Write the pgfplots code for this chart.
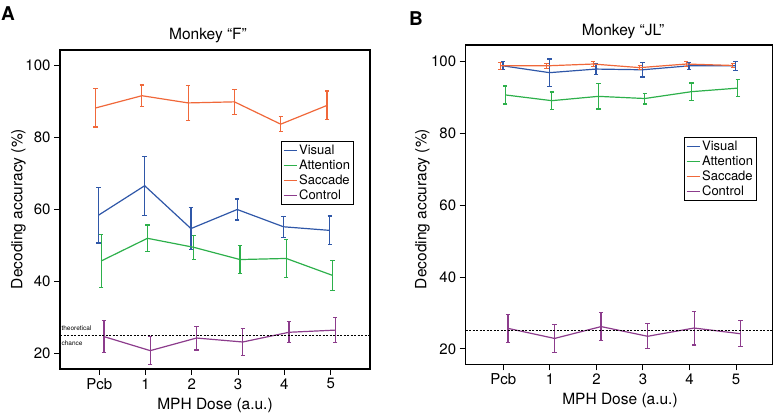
\documentclass[border=0pt]{standalone}
\usepackage{fontspec}
\setmainfont{TeX Gyre Heros}
\usepackage{pgfplots}
\pgfplotsset{compat=1.18}

\definecolor{cvis}{HTML}{2F57A8}
\definecolor{catt}{HTML}{2DB04B}
\definecolor{csac}{HTML}{F0683A}
\definecolor{cctl}{HTML}{8C3C8C}

\pgfplotsset{
  mph/.style={
    scale only axis, axis line style={line width=1.3pt},
    tick align=outside, xtick pos=bottom, ytick pos=left,
    tick style={line width=1pt, black}, major tick length=6pt,
    xtick={0,...,5}, xticklabels={Pcb,1,2,3,4,5},
    ytick={20,40,60,80,100},
    /pgf/number format/assume math mode=true,
    tick label style={font=\fontsize{15}{16}\selectfont},
    legend style={draw=black, line width=0.8pt, anchor=north west,
      font=\fontsize{13}{14}\selectfont, inner sep=1.5pt, row sep=0pt,
      cells={anchor=west}},
    /pgfplots/error bars/y dir=both,
    /pgfplots/error bars/y explicit,
    /pgfplots/error bars/error bar style={line width=1.2pt},
    /pgfplots/error bars/error mark options={rotate=90, line width=1.2pt, mark size=2.2pt},
  },
  key/.style={legend image code/.code={\draw[#1, line width=1.2pt] (0pt,0pt) -- (13pt,0pt);}},
}
\newcommand{\keys}{%
  \addlegendimage{key=cvis}\addlegendentry{Visual}
  \addlegendimage{key=catt}\addlegendentry{Attention}
  \addlegendimage{key=csac}\addlegendentry{Saccade}
  \addlegendimage{key=cctl}\addlegendentry{Control}}

\begin{document}
\begin{tikzpicture}
\useasboundingbox (0,0) rectangle (775pt,414pt);

% panel A
\begin{axis}[mph, at={(60pt,45pt)}, anchor=south west,
  width=310pt, height=319pt, xmin=-0.85, xmax=5.85, ymin=15.6, ymax=104.2,
  legend style={at={(0.713,0.715)}}]
\addplot[color=cvis, line width=1.2pt, mark=none, forget plot] coordinates {
  (-0.02,58.3) +- (0,7.7) (0.98,66.5) +- (0,8.2) (1.98,54.6) +- (0,5.8)
  (2.98,59.9) +- (0,2.9) (3.98,55.1) +- (0,2.9) (4.98,54.1) +- (0,4.0)};
\addplot[color=catt, line width=1.2pt, mark=none, forget plot] coordinates {
  (0.04,45.6) +- (0,7.4) (1.04,51.9) +- (0,3.7) (2.04,49.4) +- (0,3.3)
  (3.04,46.0) +- (0,3.8) (4.04,46.3) +- (0,5.2) (5.04,41.6) +- (0,4.2)};
\addplot[color=csac, line width=1.2pt, mark=none, forget plot] coordinates {
  (-0.08,88.1) +- (0,5.3) (0.92,91.5) +- (0,3.0) (1.92,89.5) +- (0,4.8)
  (2.92,89.8) +- (0,3.5) (3.92,83.6) +- (0,2.1) (4.92,88.8) +- (0,4.0)};
\addplot[color=cctl, line width=1.2pt, mark=none, forget plot] coordinates {
  (0.1,24.6) +- (0,4.4) (1.1,20.7) +- (0,3.9) (2.1,24.2) +- (0,3.3)
  (3.1,23.1) +- (0,3.8) (4.1,25.8) +- (0,2.9) (5.1,26.4) +- (0,3.4)};
\addplot[black, line width=1pt, dash pattern=on 2pt off 1.5pt, forget plot] coordinates {(-0.85,25) (5.85,25)};
\node[anchor=west, font=\fontsize{6.5}{7}\selectfont, inner sep=0pt] at (axis cs:-0.82,26.9) {theoretical};
\node[anchor=west, font=\fontsize{6.5}{7}\selectfont, inner sep=0pt] at (axis cs:-0.82,22.9) {chance};
\keys
\end{axis}

% panel B
\begin{axis}[mph, at={(465.7pt,49.7pt)}, anchor=south west,
  width=306.6pt, height=319.3pt, xmin=-0.81, xmax=5.78, ymin=15.7, ymax=104.6,
  legend style={at={(0.712,0.712)}}]
\addplot[color=cvis, line width=1.2pt, mark=none, forget plot] coordinates {
  (-0.01,98.8) +- (0,1.1) (0.99,96.9) +- (0,3.8) (1.99,97.9) +- (0,1.6)
  (2.99,97.7) +- (0,2.0) (3.99,98.8) +- (0,1.0) (4.99,98.8) +- (0,1.2)};
\addplot[color=catt, line width=1.2pt, mark=none, forget plot] coordinates {
  (0.04,90.7) +- (0,2.5) (1.04,89.1) +- (0,2.4) (2.04,90.3) +- (0,3.5)
  (3.04,89.7) +- (0,1.5) (4.04,91.6) +- (0,2.4) (5.04,92.6) +- (0,2.4)};
\addplot[color=csac, line width=1.2pt, mark=none, forget plot] coordinates {
  (-0.07,98.8) +- (0,1.0) (0.93,98.8) +- (0,0.7) (1.93,99.3) +- (0,0.7)
  (2.93,98.3) +- (0,0.6) (3.93,99.3) +- (0,0.6) (4.93,98.9) +- (0,0.5)};
\addplot[color=cctl, line width=1.2pt, mark=none, forget plot] coordinates {
  (0.1,25.7) +- (0,3.9) (1.1,22.9) +- (0,3.9) (2.1,26.2) +- (0,3.9)
  (3.1,23.5) +- (0,3.5) (4.1,25.8) +- (0,4.7) (5.1,24.2) +- (0,3.6)};
\addplot[black, line width=1pt, dash pattern=on 2pt off 1.5pt, forget plot] coordinates {(-0.81,25) (5.78,25)};
\keys
\end{axis}

% titles, labels, panel letters
\node[font=\fontsize{15.5}{16}\selectfont] at (208pt,378pt) {Monkey “F”};
\node[font=\fontsize{15.5}{16}\selectfont] at (623pt,382pt) {Monkey “JL”};
\node[font=\fontsize{15.5}{16}\selectfont, rotate=90] at (18.5pt,205pt) {Decoding accuracy (\%)};
\node[font=\fontsize{15.5}{16}\selectfont, rotate=90] at (422.5pt,205pt) {Decoding accuracy (\%)};
\node[font=\fontsize{15.5}{16}\selectfont, anchor=base] at (215pt,4pt) {MPH Dose (a.u.)};
\node[font=\fontsize{15.5}{16}\selectfont, anchor=base] at (620pt,9pt) {MPH Dose (a.u.)};
\node[font=\bfseries\fontsize{19}{20}\selectfont, anchor=base west, inner sep=0pt] at (1pt,393pt) {A};
\node[font=\bfseries\fontsize{19}{20}\selectfont, anchor=base west, inner sep=0pt] at (409pt,388pt) {B};
\end{tikzpicture}
\end{document}
